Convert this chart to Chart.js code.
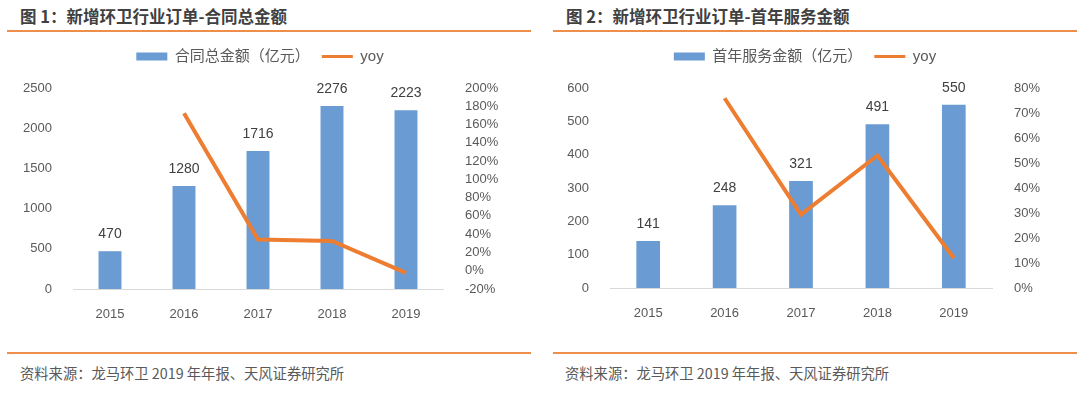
<!DOCTYPE html>
<html>
<head>
<meta charset="utf-8">
<script src="https://cdn.jsdelivr.net/npm/chart.js@4.4.1/dist/chart.umd.min.js"></script>
<style>
  html, body { margin: 0; padding: 0; background: #fff; }
  body { width: 1080px; height: 397px; position: relative; overflow: hidden;
         font-family: "Noto Sans CJK SC", "Liberation Sans", sans-serif; }
  .title { position: absolute; top: 4px; font-size: 16.5px; font-weight: bold; color: #404040; white-space: nowrap; }
  .rule { position: absolute; height: 2px; background: #EE8E4A; }
  .source { position: absolute; top: 362px; font-size: 14.3px; color: #595959; white-space: nowrap; }
  .box { position: absolute; }
</style>
</head>
<body>
<div class="title" style="left:20px">图 1：新增环卫行业订单-合同总金额</div>
<div class="title" style="left:566px">图 2：新增环卫行业订单-首年服务金额</div>
<div class="rule" style="left:7px; width:524px; top:30px"></div>
<div class="rule" style="left:553px; width:524px; top:30px"></div>

<div class="box" style="left:0; top:37px; width:520px; height:293px"><canvas id="chart1"></canvas></div>
<div class="box" style="left:540px; top:37px; width:530px; height:293px"><canvas id="chart2"></canvas></div>

<div class="rule" style="left:7px; width:524px; top:352px"></div>
<div class="rule" style="left:553px; width:524px; top:352px"></div>
<div class="source" style="left:20px">资料来源：龙马环卫 2019 年年报、天风证券研究所</div>
<div class="source" style="left:565px">资料来源：龙马环卫 2019 年年报、天风证券研究所</div>

<script>
// ===== 数据 =====
const years = ['2015', '2016', '2017', '2018', '2019'];
const contractTotal = [470, 1280, 1716, 2276, 2223];        // 合同总金额（亿元）
const contractYoy = [null, 172.3, 34.1, 32.6, -2.3];         // yoy %
const firstYearTotal = [141, 248, 321, 491, 550];            // 首年服务金额（亿元）
const firstYearYoy = [null, 75.9, 29.4, 53.0, 12.0];         // yoy %

const BAR_COLOR = '#6A9BD2';
const LINE_COLOR = '#ED7D31';
const TEXT_COLOR = '#595959';
const FONT = '"Liberation Sans", "Noto Sans CJK SC", sans-serif';

// 柱顶数值
const barLabels = {
    id: 'barLabels',
    afterDatasetsDraw(chart) {
        const ctx = chart.ctx;
        const meta = chart.getDatasetMeta(0);
        ctx.save();
        ctx.font = `14px ${FONT}`;
        ctx.fillStyle = '#404040';
        ctx.textAlign = 'center';
        ctx.textBaseline = 'middle';
        meta.data.forEach((bar, i) => {
            ctx.fillText(String(chart.data.datasets[0].data[i]), bar.x, bar.y - 17);
        });
        ctx.restore();
    }
};

// 图例与绘图区之间的间距
const legendGap = {
    id: 'legendGap',
    beforeInit(chart) {
        const fit = chart.legend.fit;
        chart.legend.fit = function () {
            fit.call(this);
            this.height += chart.options.plugins.legendGap.extra;
        };
    }
};

function makeChart(canvasId, barName, bars, yoy, axes) {
    return new Chart(document.getElementById(canvasId), {
        type: 'bar',
        data: {
            labels: years,
            datasets: [
                {
                    type: 'bar', label: barName, data: bars, order: 1,
                    backgroundColor: BAR_COLOR, yAxisID: 'y',
                    categoryPercentage: 1, barPercentage: 0.31
                },
                {
                    type: 'line', label: 'yoy', data: yoy, order: 0,
                    borderColor: LINE_COLOR, backgroundColor: LINE_COLOR,
                    borderWidth: 4, pointRadius: 0, tension: 0, yAxisID: 'y1'
                }
            ]
        },
        options: {
            responsive: true,
            maintainAspectRatio: false,
            animation: false,
            layout: { padding: 0 },
            plugins: {
                tooltip: { enabled: false },
                legendGap: { extra: axes.legendExtra },
                legend: {
                    position: 'top',
                    labels: {
                        usePointStyle: true,
                        pointStyleWidth: 31,
                        boxHeight: 8,
                        padding: 12,
                        color: TEXT_COLOR,
                        font: { size: 15, family: FONT },
                        sort: (a, b) => a.datasetIndex - b.datasetIndex,
                        generateLabels: chart => Chart.defaults.plugins.legend.labels.generateLabels(chart)
                            .map(l => l.datasetIndex === 0
                                ? { ...l, pointStyle: 'rect', lineWidth: 0, fillStyle: BAR_COLOR, strokeStyle: BAR_COLOR }
                                : { ...l, pointStyle: 'line', lineWidth: 3, fillStyle: LINE_COLOR, strokeStyle: LINE_COLOR })
                    }
                }
            },
            scales: {
                x: {
                    grid: { display: false },
                    border: { color: '#D9D9D9', width: 1 },
                    ticks: { color: TEXT_COLOR, font: { size: 13, family: FONT }, padding: 10 },
                    afterFit: s => { s.height = axes.xHeight; }
                },
                y: {
                    position: 'left',
                    min: axes.yMin, max: axes.yMax,
                    grid: { display: false },
                    border: { display: false },
                    ticks: {
                        stepSize: axes.yStep, autoSkip: false, color: TEXT_COLOR,
                        font: { size: 13, family: FONT }, padding: 13,
                        callback: v => String(v)
                    },
                    afterFit: s => { s.width = axes.yWidth; }
                },
                y1: {
                    position: 'right',
                    min: axes.pMin, max: axes.pMax,
                    grid: { display: false },
                    border: { display: false },
                    ticks: {
                        stepSize: axes.pStep, autoSkip: false, color: TEXT_COLOR,
                        font: { size: 13, family: FONT }, padding: 14,
                        callback: v => Math.round(v) + '%'
                    },
                    afterFit: s => { s.width = axes.y1Width; }
                }
            }
        },
        plugins: [barLabels, legendGap]
    });
}

makeChart('chart1', '合同总金额（亿元）', contractTotal, contractYoy, {
    yMin: 0, yMax: 2500, yStep: 500,
    pMin: -20, pMax: 200, pStep: 20,
    yWidth: 73, y1Width: 77, xHeight: 41, legendExtra: 14
});
makeChart('chart2', '首年服务金额（亿元）', firstYearTotal, firstYearYoy, {
    yMin: 0, yMax: 600, yStep: 100,
    pMin: 0, pMax: 80, pStep: 10,
    yWidth: 70, y1Width: 78, xHeight: 42, legendExtra: 14
});
</script>
</body>
</html>
